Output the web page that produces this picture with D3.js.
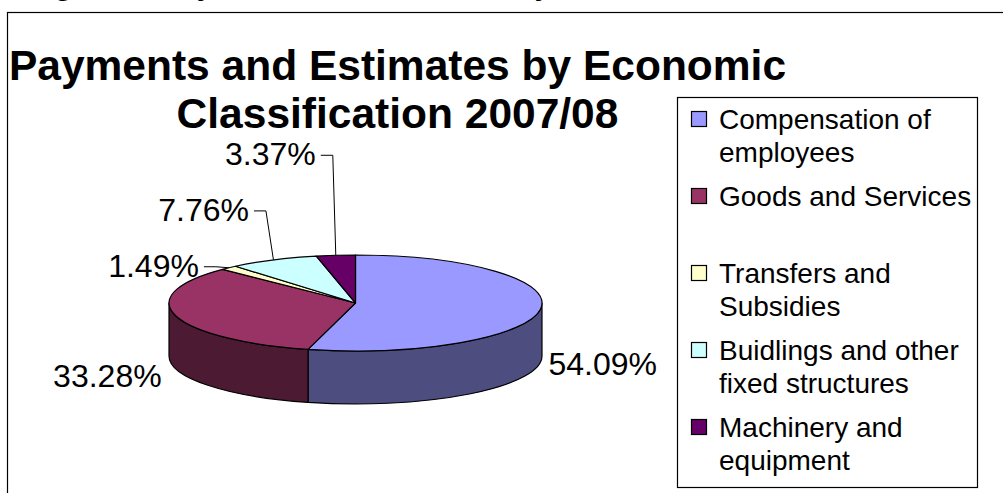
<!DOCTYPE html>
<html>
<head>
<meta charset="utf-8">
<script src="https://cdn.jsdelivr.net/npm/d3@7"></script>
<style>
  html, body { margin: 0; padding: 0; background: #fff; overflow: hidden; }
  svg { display: block; font-family: "Liberation Sans", Arial, sans-serif; }
</style>
</head>
<body>
<svg id="chart" width="1003" height="493"></svg>
<script>
// ---- data ----
const categories = [
  "Compensation of employees",
  "Goods and Services",
  "Transfers and Subsidies",
  "Buidlings and other fixed structures",
  "Machinery and equipment"
];
const shares = [54.09, 33.28, 1.49, 7.76, 3.37];
const percentLabels = ["54.09%", "33.28%", "1.49%", "7.76%", "3.37%"];
const legendLines = [
  ["Compensation of", "employees"],
  ["Goods and Services", ""],
  ["Transfers and", "Subsidies"],
  ["Buidlings and other", "fixed structures"],
  ["Machinery and", "equipment"]
];
const titleLines = ["Payments and Estimates by Economic", "Classification 2007/08"];
const captionText = "Figure 3: Payments and Estimates by Economic Classification";

// ---- styling ----
const topColors = ["#9999FF", "#993366", "#FFFFCC", "#CCFFFF", "#660066"];
const shade = c => { const r = d3.rgb(c); return d3.rgb(r.r * 0.5, r.g * 0.5, r.b * 0.5).formatHex(); };
const color = d3.scaleOrdinal().domain(categories).range(topColors);

// label placement relative to the slice's mid point on the rim: [dx, dy, anchor, leader]
const labelLayout = [
  [8, 66, "start", false],
  [-14, 71, "end", false],
  [-30, 9, "end", true],
  [-24.5, -39, "end", true],
  [-20, -90, "end", true]
];

const svg = d3.select("#chart");

// caption line running above the frame (only its descenders show)
svg.append("text")
  .attr("x", 28).attr("y", -5)
  .attr("font-size", 29.5).attr("font-weight", "bold")
  .text(captionText);

// chart frame
svg.append("rect")
  .attr("x", 7.5).attr("y", 12.5)
  .attr("width", 1010).attr("height", 500)
  .attr("fill", "#fff").attr("stroke", "#000").attr("stroke-width", 1.2);

// title
const title = svg.append("text")
  .attr("text-anchor", "middle")
  .attr("font-size", 42.5).attr("font-weight", "bold");
title.selectAll("tspan").data(titleLines).join("tspan")
  .attr("x", 397.5)
  .attr("y", (d, i) => 80 + i * 48)
  .text(d => d);

// ---- 3D pie ----
const cx = 355.5, cy = 303, rx = 186.5, ry = 48, depth = 53;
const P = (a, dy = 0) => [cx + rx * Math.sin(a), cy - ry * Math.cos(a) + dy];

const pie = d3.pie().sort(null).value(d => d).startAngle(0).endAngle(2 * Math.PI);
const arcs = pie(shares).map((a, i) => Object.assign(a, { i }));

const topPath = a => {
  const p0 = P(a.startAngle), p1 = P(a.endAngle);
  const large = a.endAngle - a.startAngle > Math.PI ? 1 : 0;
  return `M${cx},${cy}L${p0}A${rx},${ry} 0 ${large} 1 ${p1}Z`;
};
const sidePath = a => {
  const s = Math.max(a.startAngle, Math.PI / 2);
  const e = Math.min(a.endAngle, 3 * Math.PI / 2);
  if (s >= e) return null;
  const large = e - s > Math.PI ? 1 : 0;
  const s0 = P(s), e0 = P(e), e1 = P(e, depth), s1 = P(s, depth);
  return `M${s0}A${rx},${ry} 0 ${large} 1 ${e0}L${e1}A${rx},${ry} 0 ${large} 0 ${s1}Z`;
};

const pieG = svg.append("g");
pieG.selectAll("path.side").data(arcs.filter(a => sidePath(a))).join("path")
  .attr("class", "side")
  .attr("d", sidePath)
  .attr("fill", a => shade(color(categories[a.i])))
  .attr("stroke", "#000").attr("stroke-width", 1.2).attr("stroke-linejoin", "round");

pieG.selectAll("path.top").data(arcs).join("path")
  .attr("class", "top")
  .attr("d", topPath)
  .attr("fill", a => color(categories[a.i]))
  .attr("stroke", "#000").attr("stroke-width", 1.2).attr("stroke-linejoin", "round");

// ---- data labels ----
const labelG = svg.append("g").attr("font-size", 32);
arcs.forEach(a => {
  const mid = (a.startAngle + a.endAngle) / 2;
  const m = P(mid);
  const [dx, dy, anchor, leader] = labelLayout[a.i];
  const lx = m[0] + dx, ly = m[1] + dy;
  labelG.append("text")
    .attr("x", lx).attr("y", ly)
    .attr("text-anchor", anchor)
    .text(percentLabels[a.i]);
  if (leader) {
    const sx = lx + 5, sy = ly - 10;
    labelG.append("polyline")
      .attr("points", [[sx, sy], [sx + 12, sy], m].join(" "))
      .attr("fill", "none").attr("stroke", "#000").attr("stroke-width", 1);
  }
});

// ---- legend ----
const legend = svg.append("g");
legend.append("rect")
  .attr("x", 677.5).attr("y", 97.5).attr("width", 300).attr("height", 390)
  .attr("fill", "#fff").attr("stroke", "#000").attr("stroke-width", 1.2);

const legendY = d3.scalePoint().domain(categories).range([119, 427]);
const items = legend.selectAll("g.item").data(categories).join("g")
  .attr("class", "item")
  .attr("transform", d => `translate(0,${legendY(d)})`);
items.append("rect")
  .attr("x", 691.5).attr("y", -7.5).attr("width", 15).attr("height", 15)
  .attr("fill", d => color(d)).attr("stroke", "#000").attr("stroke-width", 1.2);
items.append("text")
  .attr("font-size", 28)
  .selectAll("tspan").data((d, i) => legendLines[i]).join("tspan")
  .attr("x", 719)
  .attr("y", (d, j) => 10 + j * 33)
  .text(d => d);
</script>
</body>
</html>
